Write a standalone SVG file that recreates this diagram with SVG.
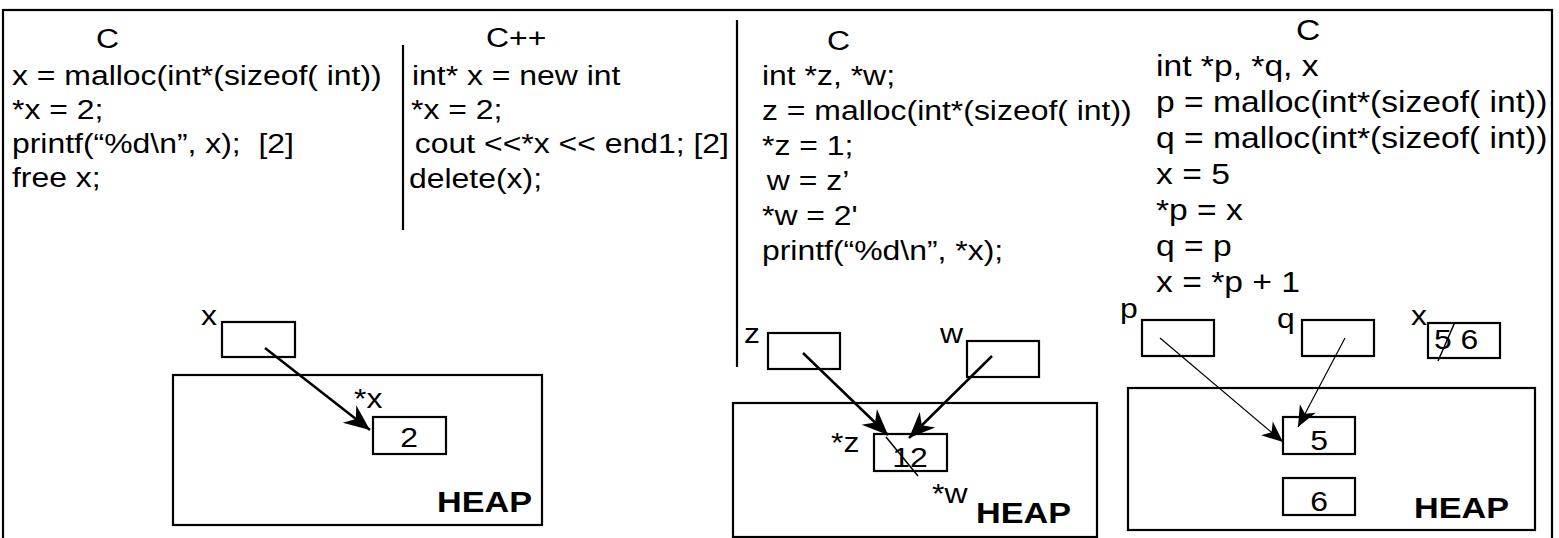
<svg xmlns="http://www.w3.org/2000/svg" width="1559" height="538" viewBox="0 0 1559 538">
<style>
text{font-family:"Liberation Sans",Arial,sans-serif;fill:#000;white-space:pre}
.code{font-size:28px}
.code4{font-size:29.5px}
.lbl{font-size:28px}
.mid{text-anchor:middle}
.heap{font-size:30px;font-weight:bold}
.box{fill:#fff;stroke:#000;stroke-width:2.2}
.frame{fill:none;stroke:#000;stroke-width:2.2}
.div{stroke:#000;stroke-width:2.2}
.arr{fill:none;stroke:#000;stroke-width:2.5}
.arrt{fill:none;stroke:#000;stroke-width:1.2}
.cross{stroke:#000;stroke-width:1.5}
</style>
<defs>
<marker id="ah" viewBox="-28 -13 30 26" refX="0" refY="0" markerWidth="30" markerHeight="26" markerUnits="userSpaceOnUse" orient="auto">
<path d="M0,0 L-26,-11 L-18,0 L-26,11 Z" fill="#000"/>
</marker>
<marker id="ahs" viewBox="-24 -11 26 22" refX="0" refY="0" markerWidth="26" markerHeight="22" markerUnits="userSpaceOnUse" orient="auto">
<path d="M0,0 L-21,-9 L-15,0 L-21,9 Z" fill="#000"/>
</marker>
</defs>
<rect class="frame" x="3" y="10" width="1549" height="535"/>
<line class="div" x1="403" y1="45" x2="403" y2="230"/>
<line class="div" x1="737" y1="20" x2="737" y2="367"/>

<g id="code1">
<text class="code" transform="matrix(1.14 0 0 1 96 48)">C</text>
<text class="code" transform="matrix(1.14 0 0 1 12 85)">x = malloc(int*(sizeof( int))</text>
<text class="code" transform="matrix(1.14 0 0 1 12 119)">*x = 2;</text>
<text class="code" transform="matrix(1.14 0 0 1 12 153)">printf(“%d\n”, x);  [2]</text>
<text class="code" transform="matrix(1.14 0 0 1 12 187)">free x;</text>
</g>
<g id="code2">
<text class="code" transform="matrix(1.14 0 0 1 486 47)">C++</text>
<text class="code" transform="matrix(1.14 0 0 1 412 85)">int* x = new int</text>
<text class="code" transform="matrix(1.14 0 0 1 411 119)">*x = 2;</text>
<text class="code" transform="matrix(1.14 0 0 1 406 153)"> cout &lt;&lt;*x &lt;&lt; end1; [2]</text>
<text class="code" transform="matrix(1.14 0 0 1 409 188)">delete(x);</text>
</g>
<g id="code3">
<text class="code" transform="matrix(1.14 0 0 1 827 50)">C</text>
<text class="code" transform="matrix(1.14 0 0 1 762 85)">int *z, *w;</text>
<text class="code" transform="matrix(1.14 0 0 1 762 120)">z = malloc(int*(sizeof( int))</text>
<text class="code" transform="matrix(1.14 0 0 1 762 155)">*z = 1;</text>
<text class="code" transform="matrix(1.14 0 0 1 758 190)"> w = z’</text>
<text class="code" transform="matrix(1.14 0 0 1 762 225)">*w = 2'</text>
<text class="code" transform="matrix(1.14 0 0 1 762 260)">printf(“%d\n”, *x);</text>
</g>
<g id="code4">
<text class="code4" transform="matrix(1.14 0 0 1 1296 40)">C</text>
<text class="code4" transform="matrix(1.14 0 0 1 1156 76)">int *p, *q, x</text>
<text class="code4" transform="matrix(1.14 0 0 1 1156 112)">p = malloc(int*(sizeof( int))</text>
<text class="code4" transform="matrix(1.14 0 0 1 1156 148)">q = malloc(int*(sizeof( int))</text>
<text class="code4" transform="matrix(1.14 0 0 1 1156 184)">x = 5</text>
<text class="code4" transform="matrix(1.14 0 0 1 1156 220)">*p = x</text>
<text class="code4" transform="matrix(1.14 0 0 1 1156 256)">q = p</text>
<text class="code4" transform="matrix(1.14 0 0 1 1156 292)">x = *p + 1</text>
</g>

<g id="heap1">
<rect class="box" x="173" y="375" width="369" height="150"/>
<text class="heap" transform="matrix(1.14 0 0 1 437 512)">HEAP</text>
</g>
<g id="heap2">
<rect class="box" x="733" y="403" width="364" height="134"/>
<text class="heap" transform="matrix(1.14 0 0 1 976 523)">HEAP</text>
</g>
<g id="heap3">
<rect class="box" x="1128" y="388" width="407" height="142"/>
<text class="heap" transform="matrix(1.14 0 0 1 1414 518)">HEAP</text>
</g>

<g id="var-x1">
<text class="lbl" transform="matrix(1.14 0 0 1 201 325)">x</text>
<rect class="box" x="222" y="322" width="73" height="35"/>
</g>
<g id="cell-2">
<text class="lbl" transform="matrix(1.14 0 0 1 354 408)">*x</text>
<rect class="box" x="373" y="417" width="73" height="37"/>
<text class="lbl mid" transform="matrix(1.14 0 0 1 409 447)">2</text>
</g>

<g id="var-z">
<text class="lbl" transform="matrix(1.14 0 0 1 744 343)">z</text>
<rect class="box" x="768" y="333" width="72" height="36"/>
</g>
<g id="var-w">
<text class="lbl" transform="matrix(1.14 0 0 1 940 343)">w</text>
<rect class="box" x="967" y="341" width="72" height="36"/>
</g>
<g id="cell-12">
<text class="lbl" transform="matrix(1.14 0 0 1 831 452)">*z</text>
<rect class="box" x="874" y="434" width="73" height="37"/>
<text class="lbl mid" transform="matrix(1.14 0 0 1 910 467)">12</text>
<line class="cross" x1="886" y1="437" x2="918" y2="476"/>
<text class="lbl" transform="matrix(1.14 0 0 1 932 503)">*w</text>
</g>

<g id="var-p">
<text class="lbl" transform="matrix(1.14 0 0 1 1120 318)">p</text>
<rect class="box" x="1142" y="320" width="72" height="36"/>
</g>
<g id="var-q">
<text class="lbl" transform="matrix(1.14 0 0 1 1277 328)">q</text>
<rect class="box" x="1302" y="320" width="72" height="36"/>
</g>
<g id="var-x2">
<text class="lbl" transform="matrix(1.14 0 0 1 1411 325)">x</text>
<rect class="box" x="1428" y="323" width="72" height="35"/>
<text class="lbl" transform="matrix(1.14 0 0 1 1434 349)">5 6</text>
<line class="cross" x1="1455" y1="322" x2="1438" y2="361"/>
</g>
<g id="cell-5">
<rect class="box" x="1283" y="417" width="72" height="37"/>
<text class="lbl mid" transform="matrix(1.14 0 0 1 1319 450)">5</text>
</g>
<g id="cell-6">
<rect class="box" x="1283" y="478" width="72" height="37"/>
<text class="lbl mid" transform="matrix(1.14 0 0 1 1319 511)">6</text>
</g>

<g id="connectors">
<line class="arr" x1="265" y1="348" x2="370" y2="430" marker-end="url(#ah)"/>
<line class="arr" x1="803" y1="353" x2="888" y2="435" marker-end="url(#ah)"/>
<line class="arr" x1="992" y1="356" x2="909" y2="438" marker-end="url(#ah)"/>
<line class="arrt" x1="1160" y1="338" x2="1283" y2="442" marker-end="url(#ahs)"/>
<line class="arrt" x1="1345" y1="338" x2="1298" y2="427" marker-end="url(#ahs)"/>
</g>
</svg>
